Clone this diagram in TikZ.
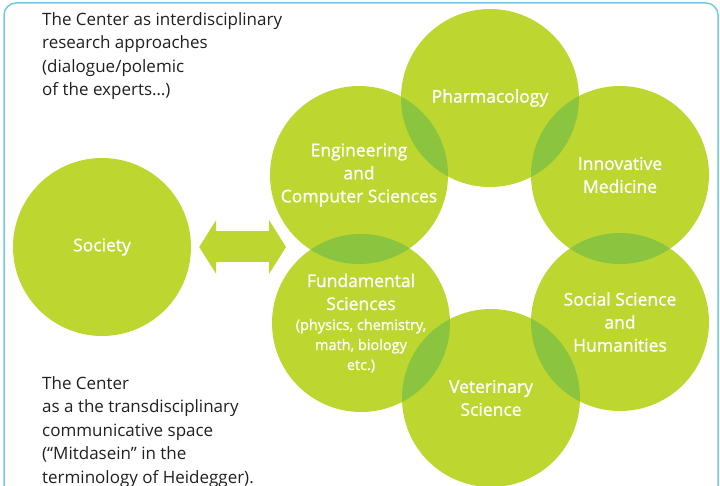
\documentclass[tikz,border=0pt]{standalone}
\usepackage{fontspec}
\setmainfont{Open Sans}
\newfontfamily\areafont[FakeBold=1.1]{Open Sans}
\usepackage{tikz}
\usetikzlibrary{arrows.meta,backgrounds}
\definecolor{leaf}{RGB}{189,214,48}
\definecolor{lens}{RGB}{139,197,63}
\definecolor{rim}{RGB}{112,202,226}
\definecolor{ink}{RGB}{35,31,32}

\begin{document}
\begin{tikzpicture}[x=1pt,y=-1pt,
  area/.style={circle,minimum size=178pt,inner sep=0pt,align=center,text=white,
    font=\areafont\fontsize{17.5}{23}\selectfont},
  note/.style={anchor=north west,inner sep=0pt,align=left,text=ink,
    font=\fontsize{17}{23.5}\selectfont},
  fatarrow/.style={draw=leaf,line width=31pt,
    {Triangle[length=17pt,width=54pt,line width=0pt]}-{Triangle[length=17pt,width=54pt,line width=0pt]}}]
  \useasboundingbox (0,0) rectangle (720,486);
  \clip (0,0) rectangle (720,486);
  \draw[rim,line width=1.5pt,rounded corners=12pt] (4,3) rectangle (718,540);
      \draw (102,247) node[area] (soc) {Society};
  \draw (490,98) node[area] (pharm) {Pharmacology};
  \draw (359,175) node[area] (engi) {Engineering\\and\\Computer Sciences};
  \draw (620,175) node[area] (innov) {Innovative\\Medicine};
  \draw (361,323) node[area] (fund) {Fundamental\\Sciences\\[-3pt]{\fontsize{14.5}{19}\selectfont (physics, chemistry,}\\[-3pt]{\fontsize{14.5}{19}\selectfont math, biology}\\[-3pt]{\fontsize{14.5}{19}\selectfont etc.)}};
  \draw (620,322) node[area] (socsci) {Social Science\\and\\Humanities};
  \draw (491,398) node[area] (vet) {Veterinary\\Science};
      \draw (42,12) node[note] (inter) {The Center as interdisciplinary\\research approaches\\(dialogue/polemic\\of the experts…)};
      \draw (42,376) node[note] (trans) {The Center\\as a the transdisciplinary\\communicative space\\(“Mitdasein” in the\\terminology of Heidegger).};
  \coordinate (hub) at (286,247);
  \draw[fatarrow] ([xshift=8pt]soc.east) -- (hub);
  \begin{scope}[on background layer]
    \foreach \c in {soc,pharm,engi,innov,fund,socsci,vet}
      \fill[leaf] (\c.center) circle (89pt);
    \foreach \a/\b in {pharm/engi,pharm/innov,innov/socsci,socsci/vet,vet/fund,fund/engi}{
      \begin{scope}
        \clip (\a.center) circle (89pt);
        \fill[lens] (\b.center) circle (89pt);
      \end{scope}}
  \end{scope}
\end{tikzpicture}
\end{document}
